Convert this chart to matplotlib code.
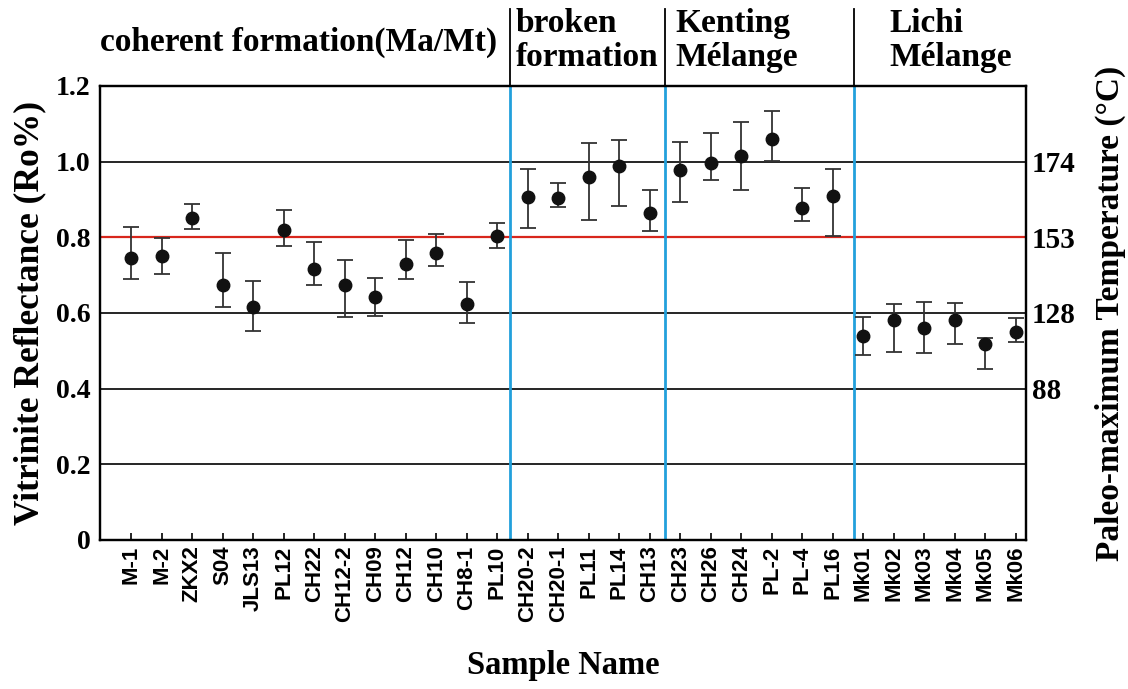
# vitrinite reflectance chart

import matplotlib
matplotlib.use("Agg")
import matplotlib.pyplot as plt
import matplotlib.transforms as mtransforms

# sample names and Ro% values (mean, upper, lower)
samples = ["M-1", "M-2", "ZKX2", "S04", "JLS13", "PL12", "CH22", "CH12-2",
           "CH09", "CH12", "CH10", "CH8-1", "PL10",
           "CH20-2", "CH20-1", "PL11", "PL14", "CH13",
           "CH23", "CH26", "CH24", "PL-2", "PL-4", "PL16",
           "Mk01", "Mk02", "Mk03", "Mk04", "Mk05", "Mk06"]
ro_mean = [0.745, 0.750, 0.852, 0.675, 0.616, 0.819, 0.716, 0.675,
           0.643, 0.729, 0.758, 0.625, 0.803,
           0.907, 0.903, 0.960, 0.989, 0.863,
           0.978, 0.997, 1.014, 1.061, 0.878, 0.909,
           0.538, 0.581, 0.560, 0.582, 0.517, 0.549]
ro_upper = [0.827, 0.798, 0.888, 0.758, 0.684, 0.873, 0.787, 0.739,
            0.693, 0.794, 0.808, 0.682, 0.839,
            0.981, 0.943, 1.050, 1.057, 0.924,
            1.053, 1.076, 1.104, 1.133, 0.931, 0.981,
            0.589, 0.625, 0.628, 0.626, 0.534, 0.586]
ro_lower = [0.691, 0.702, 0.821, 0.616, 0.552, 0.777, 0.674, 0.590,
            0.591, 0.691, 0.724, 0.573, 0.772,
            0.825, 0.879, 0.846, 0.882, 0.818,
            0.893, 0.951, 0.925, 1.002, 0.842, 0.804,
            0.490, 0.498, 0.493, 0.519, 0.451, 0.524]

# group boundaries and group titles
group_bounds = [12.41, 17.49, 23.69]
group_names = ["coherent formation(Ma/Mt)", "broken\nformation",
               "Kenting\nMélange", "Lichi\nMélange"]

# right axis temperature labels
temp_ticks = [0.4, 0.6, 0.8, 1.0]
temp_labels = ["88", "128", "153", "174"]

serif = "Liberation Serif"
sans = "Liberation Sans"

fig = plt.figure(figsize=(11.28, 6.89), dpi=100)
ax = fig.add_axes([0.0887, 0.2163, 0.8209, 0.6589])

x = list(range(len(samples)))
yerr = [[m - lo for m, lo in zip(ro_mean, ro_lower)],
        [hi - m for m, hi in zip(ro_mean, ro_upper)]]

# horizontal lines
for g in [0.2, 0.4, 0.6, 1.0]:
    ax.axhline(g, color="black", lw=1.2, zorder=1)
ax.axhline(0.8, color="#d8261c", lw=1.6, zorder=1)

# group separators
for b in group_bounds:
    ax.axvline(b, color="#22a0dc", lw=2, zorder=1)
    ax.axvline(b, ymin=1.0, ymax=1.17, color="black", lw=1.3, clip_on=False)

ax.errorbar(x, ro_mean, yerr=yerr, fmt="o", color="#111111", ecolor="#333333",
            elinewidth=1.3, capsize=6, capthick=1.3, markersize=9, zorder=3)

ax.set_xlim(-1.02, 29.33)
ax.set_ylim(0, 1.2)
ax.set_yticks([0, 0.2, 0.4, 0.6, 0.8, 1.0, 1.2])
ax.set_yticklabels(["0", "0.2", "0.4", "0.6", "0.8", "1.0", "1.2"],
                   family=serif, weight="bold", fontsize=20)
ax.tick_params(axis="y", length=0, pad=7)
ax.set_xticks(x)
ax.set_xticklabels(samples, rotation=90, family=sans, weight="bold", fontsize=16)
ax.tick_params(axis="x", direction="in", length=5, width=1.2, pad=4)
for s in ax.spines.values():
    s.set_linewidth(1.6)

ax.set_ylabel("Vitrinite Reflectance (Ro%)", family=serif, weight="bold",
              fontsize=25.5, labelpad=7)
ax.set_xlabel("Sample Name", family=serif, weight="bold", fontsize=23.5, labelpad=20)

ax2 = ax.twinx()
ax2.set_ylim(0, 1.2)
ax2.set_yticks(temp_ticks)
ax2.set_yticklabels(temp_labels, family=serif, weight="bold", fontsize=21)
ax2.tick_params(axis="y", length=0, pad=4)
ax2.set_ylabel("Paleo-maximum Temperature (°C)", family=serif, weight="bold",
               fontsize=24, labelpad=14)
for s in ax2.spines.values():
    s.set_linewidth(1.6)

# group titles above the plot
trans = mtransforms.blended_transform_factory(ax.transData, ax.transAxes)
ax.text(5.48, 1.095, group_names[0], transform=trans, ha="center", va="center",
        family=serif, weight="bold", fontsize=24)
ax.text(12.6, 1.1, group_names[1], transform=trans, ha="left", va="center",
        family=serif, weight="bold", fontsize=24, linespacing=1.15)
ax.text(17.85, 1.1, group_names[2], transform=trans, ha="left", va="center",
        family=serif, weight="bold", fontsize=24, linespacing=1.15)
ax.text(24.84, 1.1, group_names[3], transform=trans, ha="left", va="center",
        family=serif, weight="bold", fontsize=24, linespacing=1.15)

fig.savefig("out.png", dpi=100)
